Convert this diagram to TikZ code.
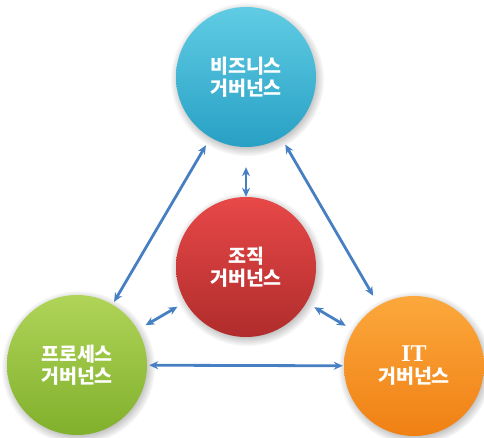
\documentclass[tikz,border=0pt]{standalone}
\usepackage{fontspec}
\newfontfamily\kr{Noto Sans CJK KR}
\newfontfamily\lat{Liberation Serif}
\usetikzlibrary{shadows,arrows.meta}
\definecolor{linkblue}{RGB}{70,128,194}
\tikzset{
	gov/.style={circle,minimum size=140pt,inner sep=0pt,text=white,align=center,
		font=\kr\bfseries\fontsize{19.5}{22}\selectfont,
		circular drop shadow={shadow xshift=1pt,shadow yshift=-2pt,fill=black!60,opacity=.45}},
	link/.style={{Stealth[length=9pt,width=8pt]}-{Stealth[length=9pt,width=8pt]},draw=linkblue,fill=linkblue,line width=2.8pt}
}
\begin{document}
\begin{tikzpicture}[x=1pt,y=-1pt]
				\useasboundingbox (0,0) rectangle (484,438);
				\node[gov,top color={rgb,255:red,96;green,204;blue,228},bottom color={rgb,255:red,40;green,160;blue,196}] (biz) at (246,77) {비즈니스\\거버넌스};
				\node[gov,top color={rgb,255:red,232;green,72;blue,72},bottom color={rgb,255:red,176;green,44;blue,44}] (org) at (246,267) {조직\\거버넌스};
				\node[gov,top color={rgb,255:red,176;green,212;blue,88},bottom color={rgb,255:red,128;green,176;blue,44}] (proc) at (77,365) {프로세스\\거버넌스};
				\node[gov,top color={rgb,255:red,252;green,168;blue,60},bottom color={rgb,255:red,240;green,128;blue,20}] (it) at (414,366) {{\lat\fontsize{24}{24}\selectfont IT}\\거버넌스};
				\draw[link,shorten <=9pt,shorten >=3pt] (biz) -- (proc);
				\draw[link,shorten <=8pt,shorten >=11pt] (biz) -- (it);
				\draw[link,shorten <=20pt] (biz) -- (org);
				\draw[link,shorten <=9pt,shorten >=9pt] (org) -- (proc);
				\draw[link,shorten <=9pt,shorten >=9pt] (org) -- (it);
				\draw[link,shorten <=2pt,shorten >=1pt] (proc) -- (it);
			\end{tikzpicture}
\end{document}
